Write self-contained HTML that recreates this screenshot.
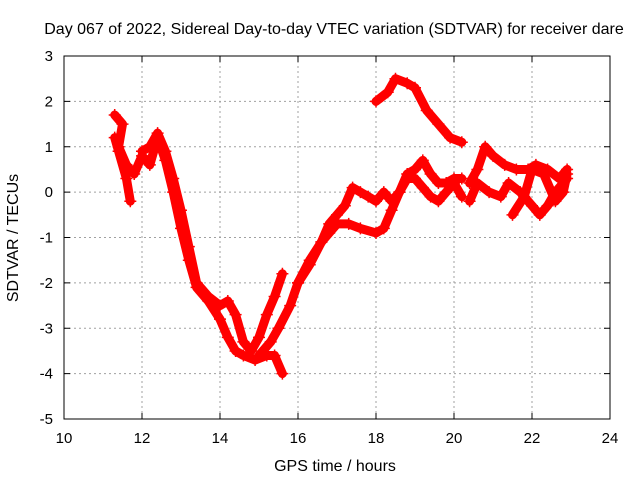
<!DOCTYPE html>
<html><head><meta charset="utf-8"><style>
body{margin:0;background:#fff;}
svg{display:block;font-family:"Liberation Sans",sans-serif;}
</style></head><body>
<svg id="chart" width="640" height="480" viewBox="0 0 640 480">
<text x="334" y="34" font-size="16" text-anchor="middle">Day 067 of 2022, Sidereal Day-to-day VTEC variation (SDTVAR) for receiver dare</text>
<text x="335" y="471" font-size="16" text-anchor="middle">GPS time / hours</text>
<text x="18" y="238" font-size="16" text-anchor="middle" transform="rotate(-90 18 238)">SDTVAR / TECUs</text>
<g id="grid"></g><g id="marks"></g><g id="axes"></g>
</svg>
<script>
const xTicks=[10,12,14,16,18,20,22,24];
const yTicks=[-5,-4,-3,-2,-1,0,1,2,3];
const trace1=[[11.3,1.7],[11.5,1.5],[11.4,1.0],[11.6,0.6],[11.8,0.4],[12.0,0.8],[12.2,0.6],[12.4,1.2],[12.6,0.7],[12.8,0.0],[13.0,-0.8],[13.2,-1.5],[13.4,-2.1],[13.7,-2.4],[14.0,-2.8],[14.2,-3.2],[14.4,-3.5],[14.6,-3.6],[14.9,-3.7],[15.2,-3.6],[15.4,-3.6],[15.6,-4.0]];
const trace2=[[11.3,1.2],[11.4,0.9],[11.6,0.3],[11.7,-0.2]];
const trace3=[[12.0,0.9],[12.2,1.0],[12.4,1.3],[12.6,0.9],[12.8,0.3],[13.0,-0.4],[13.2,-1.2],[13.4,-2.0],[13.7,-2.3],[14.0,-2.5],[14.2,-2.4],[14.4,-2.7],[14.6,-3.3],[14.8,-3.5],[15.0,-3.2],[15.2,-2.7],[15.4,-2.3],[15.6,-1.8]];
const trace4=[[15.0,-3.6],[15.3,-3.3],[15.5,-3.0],[15.8,-2.5],[16.0,-2.0],[16.3,-1.6],[16.6,-1.1],[16.8,-0.7],[17.0,-0.5],[17.2,-0.3],[17.4,0.1],[17.6,0.0],[17.8,-0.1],[18.0,-0.2],[18.2,0.0],[18.4,-0.2],[18.6,0.0],[18.8,0.4],[19.0,0.5],[19.2,0.7],[19.4,0.4],[19.6,0.2],[19.8,0.2],[20.0,0.3],[20.2,0.3]];
const trace5=[[16.0,-2.0],[16.3,-1.5],[16.6,-1.1],[16.8,-0.9],[17.0,-0.7],[17.3,-0.7],[17.6,-0.8],[18.0,-0.9],[18.2,-0.8],[18.4,-0.4],[18.6,0.0],[18.8,0.3],[19.0,0.3],[19.2,0.1],[19.4,-0.1],[19.6,-0.2],[19.8,0.0],[20.0,0.2],[20.2,-0.1]];
const trace6=[[18.0,2.0],[18.3,2.2],[18.5,2.5],[18.8,2.4],[19.0,2.3],[19.3,1.8],[19.6,1.5],[19.9,1.2],[20.2,1.1]];
const trace7=[[20.4,0.2],[20.6,0.5],[20.8,1.0],[21.0,0.8],[21.3,0.6],[21.6,0.5],[21.9,0.5],[22.1,0.6],[22.4,0.5],[22.7,0.3],[22.9,0.5]];
const trace8=[[20.4,-0.2],[20.6,0.2],[20.9,0.0],[21.2,-0.1],[21.4,0.2],[21.7,0.0],[22.0,-0.3],[22.2,-0.5],[22.4,-0.3],[22.6,0.0],[22.9,0.3]];
const trace9=[[21.5,-0.5],[21.8,-0.1],[22.0,0.5],[22.3,0.4],[22.6,-0.2],[22.8,0.0],[22.9,0.4]];
const traces=[trace1,trace2,trace3,trace4,trace5,trace6,trace7,trace8,trace9];
const L=64,R=610,T=56,B=419,xmin=10,xmax=24,ymin=-5,ymax=3;
const X=v=>L+(v-xmin)/(xmax-xmin)*(R-L);
const Y=v=>B-(v-ymin)/(ymax-ymin)*(B-T);
const NS="http://www.w3.org/2000/svg";
function mk(tag,attrs,parent){const e=document.createElementNS(NS,tag);for(const k in attrs)e.setAttribute(k,attrs[k]);parent.appendChild(e);return e;}
const grid=document.getElementById('grid'),axes=document.getElementById('axes'),marks=document.getElementById('marks');
xTicks.forEach(t=>{
 if(t>xmin&&t<xmax){const g=mk('line',{x1:X(t),x2:X(t),y1:T,y2:B,stroke:'#a0a0a0','stroke-dasharray':'2,3'},grid);
 
 }
 mk('line',{x1:X(t),x2:X(t),y1:B,y2:B-6,stroke:'#000'},axes);
 mk('line',{x1:X(t),x2:X(t),y1:T,y2:T+6,stroke:'#000'},axes);
 const lb=mk('text',{x:X(t),y:B+24,'font-size':15,'text-anchor':'middle'},axes);lb.textContent=t;
 
 
});
yTicks.forEach(t=>{
 if(t>ymin&&t<ymax){const g=mk('line',{x1:L,x2:R,y1:Y(t),y2:Y(t),stroke:'#a0a0a0','stroke-dasharray':'2,3'},grid);
 
 }
 mk('line',{x1:L,x2:L+6,y1:Y(t),y2:Y(t),stroke:'#000'},axes);
 mk('line',{x1:R,x2:R-6,y1:Y(t),y2:Y(t),stroke:'#000'},axes);
 const lb=mk('text',{x:L-11,y:Y(t)+5,'font-size':15,'text-anchor':'end'},axes);lb.textContent=t;
 
 
});
const frame=mk('rect',{x:L,y:T,width:R-L,height:B-T,fill:'none',stroke:'#000'},axes);


traces.forEach((tr,i)=>{
 const g=mk('g',{},marks);
 
 
 mk('polyline',{points:tr.map(p=>X(p[0])+','+Y(p[1])).join(' '),fill:'none',stroke:'#f00','stroke-width':9,'stroke-linejoin':'round','stroke-linecap':'round'},g);
 tr.forEach(p=>{const x=X(p[0]),y=Y(p[1]);
  mk('path',{d:`M${x-6},${y}H${x+6}M${x},${y-6}V${y+6}`,stroke:'#f00','stroke-width':1.5},g);});
});
</script>
</body></html>
